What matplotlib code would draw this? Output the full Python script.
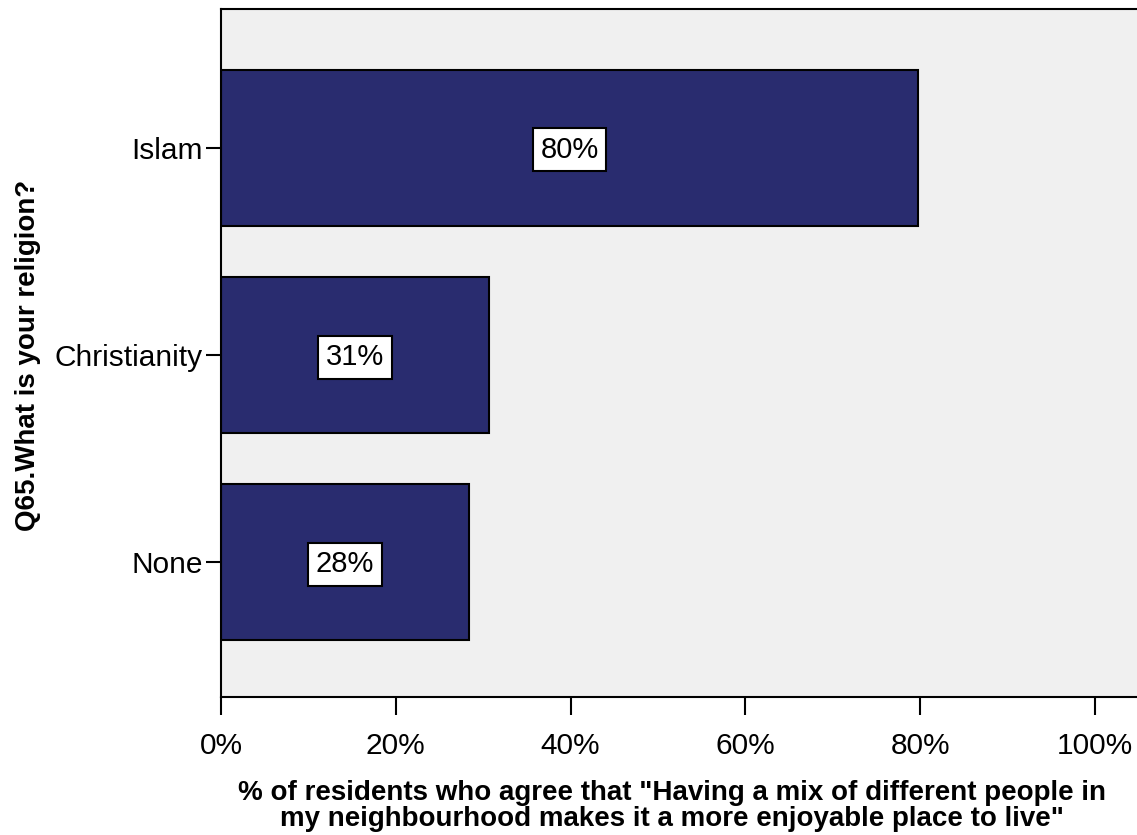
import matplotlib
matplotlib.use("Agg")
import matplotlib.pyplot as plt
from matplotlib.ticker import FuncFormatter

categories = ["Islam", "Christianity", "None"]
values = [79.8, 30.7, 28.4]
value_labels = ["80%", "31%", "28%"]
xticks = [0, 20, 40, 60, 80, 100]

plt.rcParams['font.family'] = ['Liberation Sans', 'DejaVu Sans']

fig = plt.figure(figsize=(11.37, 8.35), dpi=100)
ax = fig.add_axes([221/1137, 1 - 697/835, (1137-221)/1137, (697-9)/835])
ax.set_facecolor('#F0F0F0')

ypos = list(range(len(categories)))[::-1]
ax.barh(ypos, values, height=0.754, color='#292C6F', edgecolor='black', linewidth=1.5, zorder=2)
for y, v, lab in zip(ypos, values, value_labels):
    ax.text(v / 2, y - 0.01, lab, ha='center', va='center', fontsize=21,
            bbox=dict(boxstyle='square,pad=0.26', facecolor='white', edgecolor='black', linewidth=1.5), zorder=3)

ax.set_xlim(0, 104.8)
ax.set_ylim(-0.65, 2.67)
ax.set_yticks(ypos)
ax.set_yticklabels(categories, fontsize=21.5)
ax.set_xticks(xticks)
ax.xaxis.set_major_formatter(FuncFormatter(lambda x, p: f"{int(x)}%"))
ax.tick_params(axis='x', labelsize=21.5, length=13, width=1.5, pad=12)
ax.tick_params(axis='y', length=11, width=1.5, pad=2)
for s in ['left', 'bottom', 'top']:
    ax.spines[s].set_linewidth(1.5)
ax.spines['right'].set_visible(False)

fig.text(672/1137, 1 - 826/835, '% of residents who agree that "Having a mix of different people in\nmy neighbourhood makes it a more enjoyable place to live"',
         ha='center', va='baseline', fontsize=20, fontweight='bold', linespacing=1.0,
         multialignment='center')
fig.text(28/1137, 1 - 355/835, 'Q65.What is your religion?', rotation=90, ha='center', va='center',
         fontsize=20, fontweight='bold')

fig.savefig('out.png', dpi=100)
